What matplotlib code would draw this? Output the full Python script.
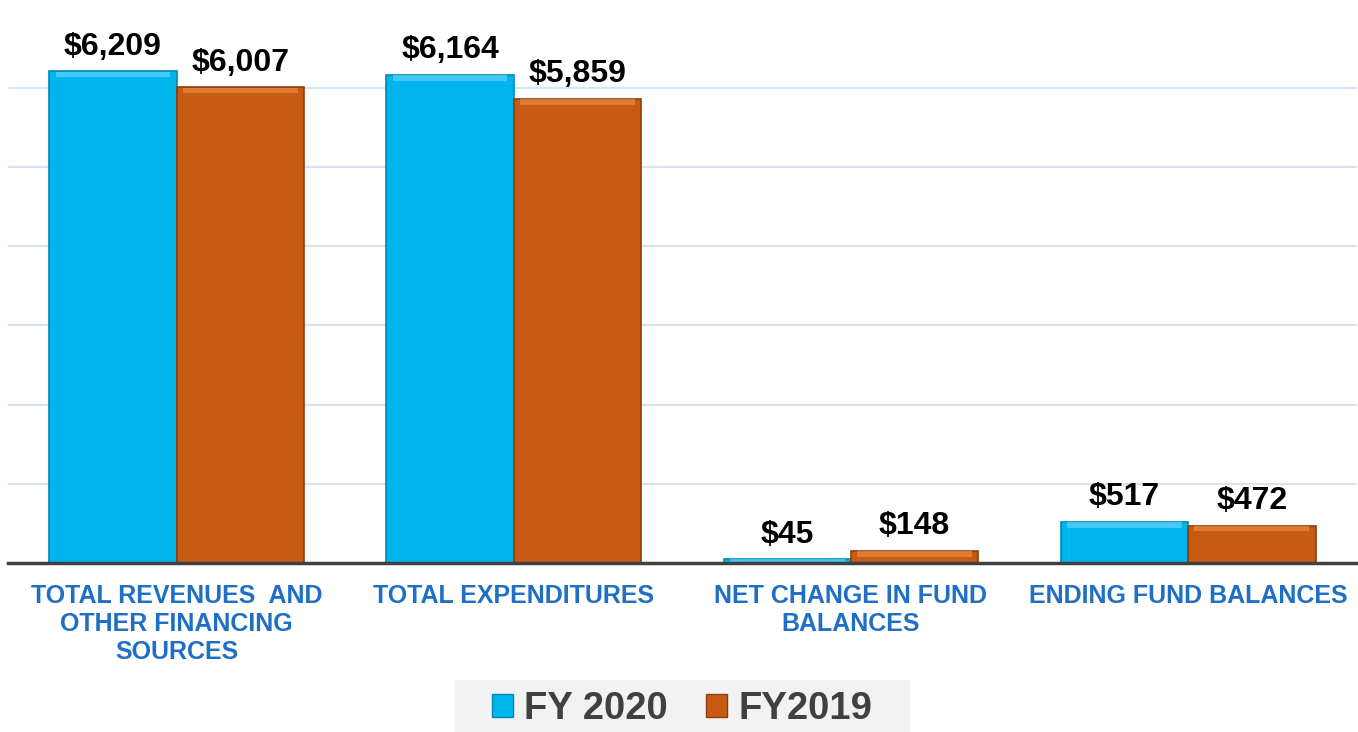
import numpy as np
import matplotlib.pyplot as plt
from matplotlib.patches import Patch, Rectangle

# chart data
categories = ['TOTAL REVENUES  AND\nOTHER FINANCING\nSOURCES', 'TOTAL EXPENDITURES',
              'NET CHANGE IN FUND\nBALANCES', 'ENDING FUND BALANCES']
fy2020 = [6209, 6164, 45, 517]
fy2019 = [6007, 5859, 148, 472]
series_names = ['FY 2020', 'FY2019']

blue = '#00B4EE'
orange = '#C85B14'
plt.rcParams['font.family'] = ['Liberation Sans', 'DejaVu Sans']

fig = plt.figure(figsize=(13.58, 7.32), dpi=100)
ax = fig.add_axes([0.006, 0.231, 0.993, 0.757])

x = np.arange(len(categories))
w = 0.378

bars1 = ax.bar(x - w / 2, fy2020, w, color=blue, edgecolor='#0089B8', linewidth=1.2, zorder=3)
bars2 = ax.bar(x + w / 2, fy2019, w, color=orange, edgecolor='#8E3D0A', linewidth=1.2, zorder=3)

# small bevel highlight on top of each bar
for bars, hl in ((bars1, '#5FD3FA'), (bars2, '#E88A45')):
    for b in bars:
        h = b.get_height()
        band = min(70, h * 0.6)
        ax.bar(b.get_x() + b.get_width() / 2, band, b.get_width() * 0.9, bottom=h - band * 1.05,
               color=hl, linewidth=0, zorder=4, alpha=0.7)

# value labels
for bars in (bars1, bars2):
    for b in bars:
        ax.annotate('${:,.0f}'.format(b.get_height()),
                    (b.get_x() + b.get_width() / 2, b.get_height()),
                    xytext=(0, 7), textcoords='offset points',
                    ha='center', va='bottom', fontsize=23, fontweight='bold', color='black')

ax.set_xlim(-0.5, 3.5)
ax.set_ylim(0, 7000)
ax.set_yticks(range(1000, 7000, 1000))
ax.yaxis.grid(True, color='#D6E3F2', linewidth=1.5, zorder=0)
ax.tick_params(axis='y', length=0, labelleft=False)
ax.tick_params(axis='x', length=0, pad=15)
ax.set_xticks(x)
ax.set_xticklabels(categories, fontsize=18, fontweight='bold', color='#1F6FC5', linespacing=1.22)
for s in ['top', 'right', 'left']:
    ax.spines[s].set_visible(False)
ax.spines['bottom'].set_color('#404040')
ax.spines['bottom'].set_linewidth(2.5)
ax.spines['bottom'].set_zorder(5)

# legend on a light grey band
fig.patches.append(Rectangle((0.335, 0.0), 0.335, 0.071, transform=fig.transFigure,
                             facecolor='#F2F2F2', edgecolor='none', zorder=0))
handles = [Patch(facecolor=blue, edgecolor='#0089B8'), Patch(facecolor=orange, edgecolor='#8E3D0A')]
leg = fig.legend(handles, series_names, loc='center', bbox_to_anchor=(0.5025, 0.031), ncol=2,
                 frameon=False, prop={'size': 27.5, 'weight': 'bold'},
                 handlelength=0.55, handleheight=0.55, handletextpad=0.3,
                 columnspacing=1.0, borderpad=0.0, borderaxespad=0)
for t in leg.get_texts():
    t.set_color('#404040')

fig.savefig('out.png', dpi=100)
